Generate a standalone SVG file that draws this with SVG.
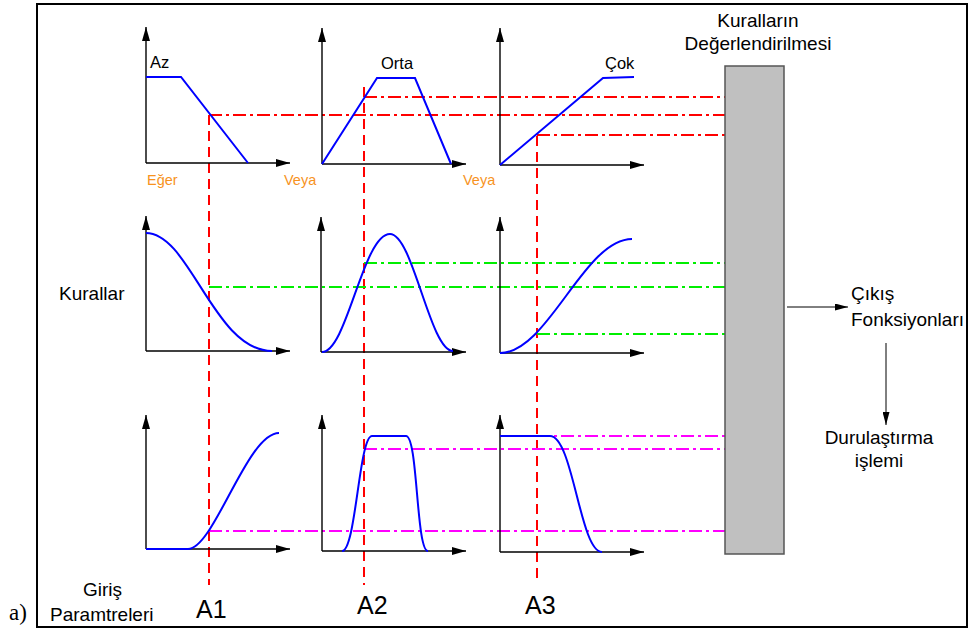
<svg xmlns="http://www.w3.org/2000/svg" width="979" height="633" viewBox="0 0 979 633">
<style>
text{font-family:"Liberation Sans",Arial,sans-serif;fill:#000}
.lbl{font-size:19px}
.mf{font-size:16.5px}
.or{font-size:14.5px;fill:#f7931e}
.big{font-size:25px}
.ax{stroke:#000;stroke-width:1.4;fill:none;marker-end:url(#ah)}
.cv{stroke:#0000ff;stroke-width:2;fill:none}
.vd{stroke:#ff0000;stroke-width:2;stroke-dasharray:10 6;fill:none}
.dd{stroke-width:2;stroke-dasharray:13 4 3 4;fill:none}
.r{stroke:#ff0000}.g{stroke:#00ee00}.m{stroke:#ff00ff}
.th{stroke:#000;stroke-width:1;fill:none;marker-end:url(#ah2)}
</style>
<defs>
<marker id="ah" viewBox="0 0 14 8" refX="14" refY="4" markerWidth="14" markerHeight="8" markerUnits="userSpaceOnUse" orient="auto"><path d="M0,0 L14,4 L0,8 Z" fill="#000"/></marker>
<marker id="ah2" viewBox="0 0 13 7" refX="13" refY="3.5" markerWidth="13" markerHeight="7" markerUnits="userSpaceOnUse" orient="auto"><path d="M0,0 L13,3.5 L0,7 Z" fill="#000"/></marker>
</defs>
<rect width="979" height="633" fill="#fff"/>
<rect id="frame" x="37" y="4" width="930" height="623" fill="none" stroke="#000" stroke-width="2"/>
<text x="9" y="620" style="font-family:'Liberation Serif','Times New Roman',serif;font-size:23px">a)</text>

<g id="connectors">
<path class="vd" d="M209,115 V585"/>
<path class="vd" d="M364,87 V585"/>
<path class="vd" d="M537,136 V582"/>
<path class="dd r" d="M209,115 H726"/>
<path class="dd r" d="M364,97 H726"/>
<path class="dd r" d="M537,135 H726"/>
<path class="dd g" d="M209,287 H726"/>
<path class="dd g" d="M364,263 H726"/>
<path class="dd g" d="M537,334 H726"/>
<path class="dd m" d="M209,531 H726"/>
<path class="dd m" d="M364,449 H726"/>
<path class="dd m" d="M537,436 H726"/>
<path class="th" d="M787,307 H848"/>
<path class="th" d="M886,343 V425"/>
</g>

<g id="plot-az">
<path class="ax" d="M146,163 V27"/><path class="ax" d="M146,163 H290"/>
<path class="cv" d="M146,77 L181,77 L248,163"/>
<text class="mf" x="150" y="68">Az</text>
</g>
<g id="plot-orta">
<path class="ax" d="M322,164 V28"/><path class="ax" d="M322,164 H466"/>
<path class="cv" d="M322,164 L377,78 L415,78 L451,164"/>
<text class="mf" x="381" y="69">Orta</text>
</g>
<g id="plot-cok">
<path class="ax" d="M500,165 V28"/><path class="ax" d="M500,165 H644"/>
<path class="cv" d="M500,165 L603,78 L634,77"/>
<text class="mf" x="605" y="69">Çok</text>
</g>
<g id="op-labels">
<text class="or" x="147" y="185">Eğer</text>
<text class="or" x="284" y="185">Veya</text>
<text class="or" x="463" y="185">Veya</text>
</g>

<g id="rule-1">
<path class="ax" d="M146,351 V216"/><path class="ax" d="M146,351 H290"/>
<path class="cv" d="M146,233 C190,233 214,351 272,351"/>
</g>
<g id="rule-2">
<path class="ax" d="M321,352 V217"/><path class="ax" d="M321,352 H466"/>
<path class="cv" d="M322,352 C347,352 363,234 390,234 C413,234 430,351 453,351"/>
</g>
<g id="rule-3">
<path class="ax" d="M500,353 V217"/><path class="ax" d="M500,353 H644"/>
<path class="cv" d="M500,353 C548,353 584,239 632,239"/>
</g>
<text id="kurallar" class="lbl" x="59" y="300">Kurallar</text>

<g id="input-1">
<path class="ax" d="M146,549 V415"/><path class="ax" d="M146,549 H290"/>
<path class="cv" d="M146,549 L188,549 C214,549 247,433 279,433"/>
</g>
<g id="input-2">
<path class="ax" d="M322,551 V415"/><path class="ax" d="M322,551 H466"/>
<path class="cv" d="M342,551 C356,551 359,436 372,436 L406,436 C418,436 416,551 428,551"/>
</g>
<g id="input-3">
<path class="ax" d="M500,552 V415"/><path class="ax" d="M500,552 H644"/>
<path class="cv" d="M500,436 L550,436 C573,436 580,552 602,552"/>
</g>
<g id="giris">
<text class="lbl" x="83" y="596">Giriş</text>
<text class="lbl" x="50" y="621">Paramtreleri</text>
</g>
<text id="a1" class="big" x="196" y="618">A1</text>
<text id="a2" class="big" x="357" y="614">A2</text>
<text id="a3" class="big" x="525" y="614">A3</text>

<g id="evaluation">
<rect x="725" y="66" width="59" height="488" fill="#c0c0c0" stroke="#555" stroke-width="1.5"/>
<text class="lbl" x="758" y="27" text-anchor="middle">Kuralların</text>
<text class="lbl" x="758" y="50" text-anchor="middle">Değerlendirilmesi</text>
</g>
<g id="output">
<text class="lbl" x="851" y="300">Çıkış</text>
<text class="lbl" x="851" y="326">Fonksiyonları</text>
</g>
<g id="defuzz">
<text class="lbl" x="879" y="444" text-anchor="middle">Durulaştırma</text>
<text class="lbl" x="879" y="467" text-anchor="middle">işlemi</text>
</g>
</svg>
